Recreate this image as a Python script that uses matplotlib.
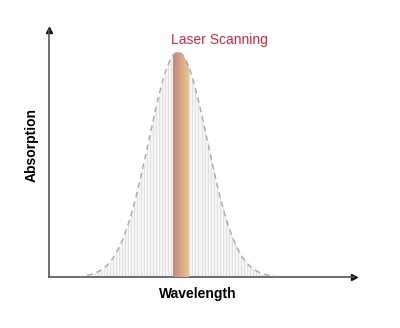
import numpy as np
import matplotlib
matplotlib.use('Agg')
import matplotlib.pyplot as plt
from matplotlib.colors import LinearSegmentedColormap

# absorption band (arbitrary units)
band_center = 42.3
band_sigma = 9.6
band_peak = 91.0
band_start, band_end = 12.5, 74.0
# laser line position
laser_lo, laser_hi = 40.7, 45.9
laser_colors = ['#c2877d', '#cc9582', '#d8a686', '#e2b68a', '#e9c68c']
# grey comb lines under the curve
comb_x = np.arange(13, 74, 1.0)
title = 'Laser Scanning'
xlabel = 'Wavelength'
ylabel = 'Absorption'

plt.rcParams['font.family'] = ['Liberation Sans', 'DejaVu Sans']

fig = plt.figure(figsize=(4, 3.28), dpi=100)
ax = fig.add_axes([0.1225, 0.155, 0.7625, 0.754])
ax.set_xlim(0, 100)
ax.set_ylim(0, 100)

def absorb(x):
    return band_peak * np.exp(-0.5 * ((x - band_center) / band_sigma) ** 2)

xs = np.linspace(band_start, band_end, 400)
ys = absorb(xs)

# filled area with thin vertical comb lines
poly = ax.fill_between(xs, 0, ys, color='#f4f4f4', lw=0, zorder=1)
ax.vlines(comb_x, 0, absorb(comb_x), color='#dedede', lw=0.6, zorder=2)

# laser band as horizontal gradient, clipped to the curve
cmap = LinearSegmentedColormap.from_list('laser', laser_colors)
grad = np.linspace(0, 1, 64).reshape(1, -1)
im = ax.imshow(grad, cmap=cmap, aspect='auto', extent=[laser_lo, laser_hi, 0, band_peak],
               zorder=3, interpolation='bilinear')
path = poly.get_paths()[0]
im.set_clip_path(path, transform=ax.transData)

# dashed outline
ax.plot(xs, ys, ls=(0, (4, 3)), color='#a8a8a8', lw=1.0, zorder=4)

# axes with arrows
for s in ['top', 'right']:
    ax.spines[s].set_visible(False)
for s in ['left', 'bottom']:
    ax.spines[s].set_color('#555555')
    ax.spines[s].set_linewidth(1.2)
ax.set_xticks([])
ax.set_yticks([])
ax.plot(1, 0, '>', color='#111111', ms=5, transform=ax.transAxes, clip_on=False)
ax.plot(0, 1, '^', color='#111111', ms=5, transform=ax.transAxes, clip_on=False)

ax.text(band_center + 13.7, 96, title, color='#d7263d', fontsize=10, ha='center', va='center')
ax.set_xlabel(xlabel, fontsize=10, fontweight='bold')
ax.set_ylabel(ylabel, fontsize=10, fontweight='bold')
ax.xaxis.set_label_coords(0.487, -0.04)
ax.yaxis.set_label_coords(-0.035, 0.534)

fig.savefig('out.png', dpi=100)
